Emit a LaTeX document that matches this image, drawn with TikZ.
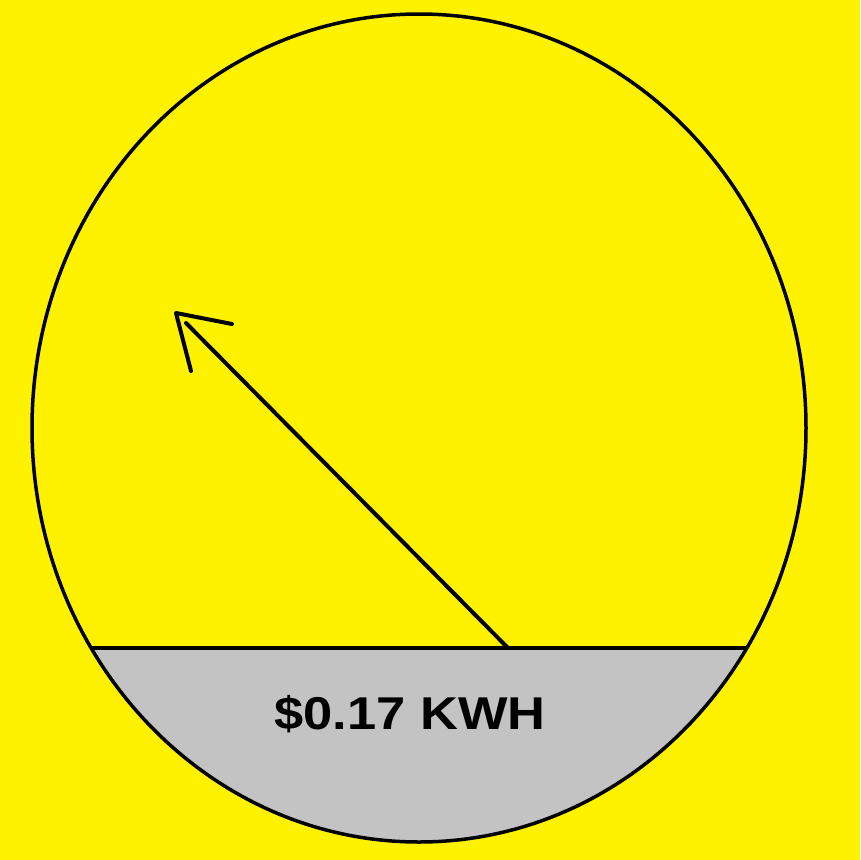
\documentclass[tikz,border=0pt]{standalone}
\usepackage{fontspec}
\setmainfont{Liberation Sans}
\definecolor{bgyellow}{RGB}{255,242,0}
\definecolor{dialgray}{RGB}{195,195,195}
\begin{document}
\begin{tikzpicture}[x=1pt,y=-1pt,
  outline/.style={draw=black,line width=3.5pt},
  needle/.style={draw=black,line width=4pt,line cap=round,line join=round}]
\fill[bgyellow] (0,0) rectangle (860,860);
\useasboundingbox (0,0) rectangle (860,860);
% gray segment
\begin{scope}
  \clip (0,648) rectangle (860,860);
  \fill[dialgray] (419,428) ellipse [x radius=387, y radius=414];
\end{scope}
\draw[outline] (419,428) ellipse [x radius=387, y radius=414];
\coordinate (L) at (91,648);
\coordinate (R) at (747,648);
\draw[outline] (L) -- (R);
\coordinate (base) at (508,648);
\coordinate (tip) at (186,323);
\coordinate (apex) at (176,313);
\coordinate (barbA) at (232,324);
\coordinate (barbB) at (191,371);
\draw[needle] (base) -- (tip);
\draw[needle] (barbA) -- (apex) -- (barbB);
\node[font=\bfseries\fontsize{46}{50}\selectfont, xscale=1.14, anchor=base] (label) at (410,729) {\$0.17 KWH};
\end{tikzpicture}
\end{document}
